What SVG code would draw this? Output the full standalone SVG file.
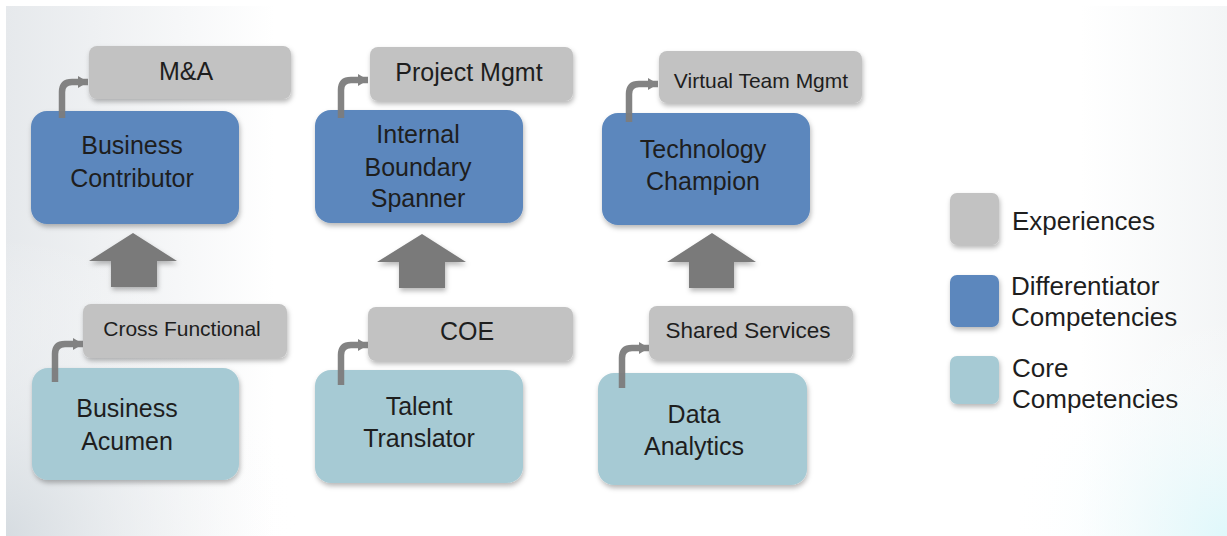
<svg xmlns="http://www.w3.org/2000/svg" width="1227" height="536" viewBox="0 0 1227 536">
<defs>
<linearGradient id="bgL" x1="0" y1="0" x2="1" y2="0">
<stop offset="0" stop-color="#e6e9ec"/>
<stop offset="0.22" stop-color="#ffffff"/>
<stop offset="0.88" stop-color="#ffffff"/>
<stop offset="1" stop-color="#f3f5f6"/>
</linearGradient>
<radialGradient id="bgC" cx="1227" cy="536" r="220" gradientUnits="userSpaceOnUse">
<stop offset="0" stop-color="#dff8fb"/>
<stop offset="1" stop-color="#ffffff" stop-opacity="0"/>
</radialGradient>
<radialGradient id="bgG" cx="0" cy="536" r="300" gradientUnits="userSpaceOnUse">
<stop offset="0" stop-color="#d5dbe0"/>
<stop offset="1" stop-color="#ffffff" stop-opacity="0"/>
</radialGradient>
<filter id="sh" x="-10%" y="-10%" width="125%" height="130%">
<feDropShadow dx="1" dy="3" stdDeviation="2.5" flood-color="#000" flood-opacity="0.28"/>
</filter>
<marker id="ah" markerUnits="userSpaceOnUse" markerWidth="12" markerHeight="14" refX="10" refY="7" orient="auto">
<path d="M0,1 L10,7 L0,13 Z" fill="#7d7d7d"/>
</marker>
<style>
.exp{fill:#c2c2c2;filter:url(#sh)}
.dif{fill:#5b87bd;filter:url(#sh)}
.core{fill:#a6cad4;filter:url(#sh)}
.t{font-family:"Liberation Sans",Arial,sans-serif;fill:#1e1e1e;text-anchor:middle}
.big{font-size:25px}
.sm{font-size:21px}
.lg{font-family:"Liberation Sans",Arial,sans-serif;fill:#1e1e1e;font-size:26px}
.up{fill:#7a7a7a;filter:url(#sh)}
.bend{fill:none;stroke:#7d7d7d;stroke-width:6.5;marker-end:url(#ah);opacity:0.95}
</style>
</defs>
<rect x="0" y="0" width="1227" height="536" fill="#ffffff"/>
<rect x="6" y="6" width="1221" height="530" fill="url(#bgL)"/>
<rect x="6" y="6" width="1221" height="530" fill="url(#bgG)"/>
<rect x="6" y="6" width="1221" height="530" fill="url(#bgC)"/>

<g id="exp-ma"><rect class="exp" x="89" y="46" width="202" height="53" rx="8"/><text class="t big" x="186" y="80">M&amp;A</text></g>
<g id="exp-pm"><rect class="exp" x="370" y="47" width="203" height="54" rx="8"/><text class="t big" x="469" y="81">Project Mgmt</text></g>
<g id="exp-vtm"><rect class="exp" x="659" y="51" width="203" height="52" rx="8"/><text class="t sm" x="761" y="88">Virtual Team Mgmt</text></g>

<g id="dif-bc"><rect class="dif" x="31" y="111" width="208" height="113" rx="16"/><text class="t big" x="132" y="154">Business</text><text class="t big" x="132" y="187">Contributor</text></g>
<g id="dif-ibs"><rect class="dif" x="315" y="110" width="208" height="113" rx="16"/><text class="t big" x="418" y="143">Internal</text><text class="t big" x="418" y="176">Boundary</text><text class="t big" x="418" y="207">Spanner</text></g>
<g id="dif-tc"><rect class="dif" x="602" y="113" width="208" height="112" rx="16"/><text class="t big" x="703" y="158">Technology</text><text class="t big" x="703" y="190">Champion</text></g>

<g id="exp-cf"><rect class="exp" x="83" y="304" width="204" height="54" rx="8"/><text class="t sm" x="182" y="336">Cross Functional</text></g>
<g id="exp-coe"><rect class="exp" x="368" y="307" width="205" height="54" rx="8"/><text class="t big" x="467" y="340">COE</text></g>
<g id="exp-ss"><rect class="exp" x="649" y="306" width="204" height="54" rx="8"/><text class="t" style="font-size:22.5px" x="748" y="338">Shared Services</text></g>

<g id="core-ba"><rect class="core" x="32" y="368" width="207" height="112" rx="16"/><text class="t big" x="127" y="417">Business</text><text class="t big" x="127" y="450">Acumen</text></g>
<g id="core-tt"><rect class="core" x="315" y="370" width="208" height="113" rx="16"/><text class="t big" x="419" y="415">Talent</text><text class="t big" x="419" y="447">Translator</text></g>
<g id="core-da"><rect class="core" x="598" y="373" width="209" height="112" rx="16"/><text class="t big" x="694" y="423">Data</text><text class="t big" x="694" y="455">Analytics</text></g>

<g id="connectors">
<polygon class="up" points="133,233 177,261 157,261 157,287 111,287 111,261 89,261"/>
<polygon class="up" points="422,234 466,262 445,262 445,288 399,288 399,262 377,262"/>
<polygon class="up" points="712,233 756,262 734,262 734,288 689,288 689,262 667,262"/>
<path class="bend" d="M62,118 V92 Q62,82 72,82 H88"/>
<path class="bend" d="M341,118 V90 Q341,80 351,80 H368"/>
<path class="bend" d="M629,122 V94 Q629,84 639,84 H658"/>
<path class="bend" d="M55,382 V354 Q55,344 65,344 H83"/>
<path class="bend" d="M341,385 V355 Q341,345 351,345 H368"/>
<path class="bend" d="M622,388 V358 Q622,348 632,348 H649"/>
</g>

<g id="legend">
<rect class="exp" x="950" y="193" width="49" height="52" rx="7"/>
<rect class="dif" x="950" y="275" width="49" height="52" rx="7"/>
<rect class="core" x="950" y="356" width="49" height="48" rx="7"/>
<text class="lg" x="1012" y="230">Experiences</text>
<text class="lg" x="1011" y="295">Differentiator</text>
<text class="lg" x="1011" y="326">Competencies</text>
<text class="lg" x="1012" y="377">Core</text>
<text class="lg" x="1012" y="408">Competencies</text>
</g>
</svg>
